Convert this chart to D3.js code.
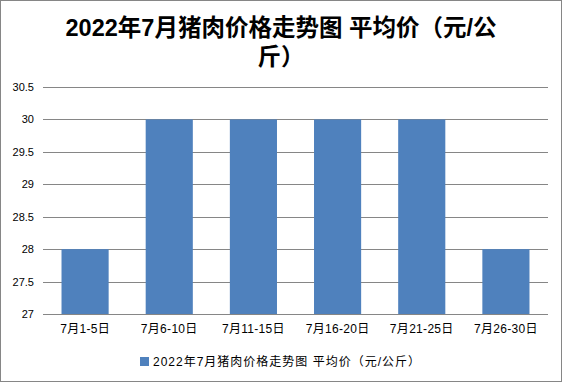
<!DOCTYPE html>
<html>
<head>
<meta charset="utf-8">
<script src="https://cdn.jsdelivr.net/npm/d3@7"></script>
<style>
  body { margin: 0; background: #fff; }
  text { font-family: "Liberation Sans", "Noto Sans CJK SC", sans-serif; }
</style>
</head>
<body>
<div class="chart"></div>
<script>
var categories = ["7月1-5日", "7月6-10日", "7月11-15日", "7月16-20日", "7月21-25日", "7月26-30日"];
var prices = [28, 30, 30, 30, 30, 28];
var yTicks = [27, 27.5, 28, 28.5, 29, 29.5, 30, 30.5];
var titleLines = ["2022年7月猪肉价格走势图 平均价（元/公", "斤）"];
var seriesName = "2022年7月猪肉价格走势图 平均价（元/公斤）";

var w = 563, h = 383;
var margin = {top: 87, right: 15, bottom: 69, left: 43};

var svg = d3.select(".chart")
  .append("svg")
  .attr("width", w)
  .attr("height", h);

// outer border
svg.append("rect")
  .attr("x", 0.5).attr("y", 0.5)
  .attr("width", w - 2).attr("height", h - 2)
  .attr("fill", "#fff")
  .attr("stroke", "#868686");

var xScale = d3.scaleBand()
  .domain(categories)
  .range([margin.left, w - margin.right])
  .paddingInner(0.44)
  .paddingOuter(0.22);

var yScale = d3.scaleLinear()
  .domain([27, 30.5])
  .range([h - margin.bottom, margin.top]);

// gridlines
svg.append("g")
  .selectAll("line")
  .data(yTicks)
  .enter()
  .append("line")
  .attr("x1", margin.left)
  .attr("x2", w - margin.right)
  .attr("y1", d => Math.round(yScale(d)) + 0.5)
  .attr("y2", d => Math.round(yScale(d)) + 0.5)
  .attr("stroke", "#868686");

// y labels
svg.append("g")
  .selectAll("text")
  .data(yTicks)
  .enter()
  .append("text")
  .attr("x", 34)
  .attr("y", d => yScale(d) + 4)
  .attr("text-anchor", "end")
  .attr("font-size", 11)
  .attr("fill", "#000")
  .text(d => d);

// bars
svg.append("g")
  .selectAll("rect")
  .data(prices)
  .enter()
  .append("rect")
  .attr("x", (d, i) => xScale(categories[i]))
  .attr("width", xScale.bandwidth())
  .attr("y", d => yScale(d))
  .attr("height", d => yScale(27) - yScale(d))
  .attr("fill", "#4F81BD");

// bottom axis line
svg.append("line")
  .attr("x1", margin.left).attr("x2", w - margin.right)
  .attr("y1", Math.round(yScale(27)) + 0.5).attr("y2", Math.round(yScale(27)) + 0.5)
  .attr("stroke", "#868686");

// x labels
svg.append("g")
  .selectAll("text")
  .data(categories)
  .enter()
  .append("text")
  .attr("x", d => xScale(d) + xScale.bandwidth() / 2)
  .attr("y", 333)
  .attr("text-anchor", "middle")
  .attr("font-size", 12)
  .attr("letter-spacing", 0.3)
  .text(d => d);

// title
svg.append("g")
  .selectAll("text")
  .data(titleLines)
  .enter()
  .append("text")
  .attr("x", 281)
  .attr("y", (d, i) => 36 + i * 29)
  .attr("text-anchor", "middle")
  .attr("font-size", 23.5)
  .attr("font-weight", "bold")
  .text(d => d);

// legend
svg.append("rect")
  .attr("x", 140).attr("y", 357)
  .attr("width", 9).attr("height", 9)
  .attr("fill", "#4F81BD");
svg.append("text")
  .attr("x", 153).attr("y", 366)
  .attr("font-size", 12)
  .attr("letter-spacing", 1)
  .text(seriesName);
</script>
</body>
</html>
